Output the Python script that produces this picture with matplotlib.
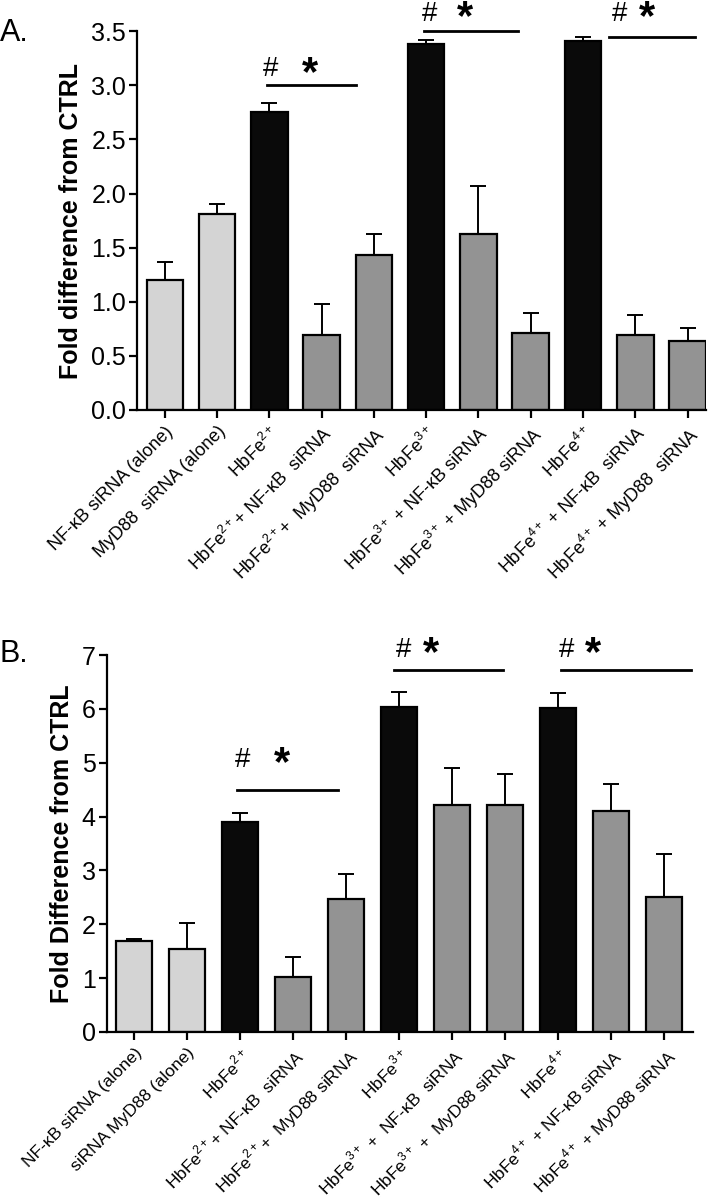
import numpy as np
import matplotlib
matplotlib.use("Agg")
import matplotlib.pyplot as plt

plt.rcParams['font.family'] = ['Liberation Sans', 'DejaVu Sans']
plt.rcParams['mathtext.fontset'] = 'custom'
plt.rcParams['mathtext.rm'] = 'Liberation Sans'

# panel A data
labels_a = ["NF-κB siRNA (alone)", "MyD88  siRNA (alone)", "HbFe$^{2+}$",
            "HbFe$^{2+}$+ NF-κB  siRNA", "HbFe$^{2+}$+  MyD88  siRNA", "HbFe$^{3+}$",
            "HbFe$^{3+}$ + NF-κB siRNA", "HbFe$^{3+}$ + MyD88 siRNA", "HbFe$^{4+}$",
            "HbFe$^{4+}$ + NF-κB  siRNA", "HbFe$^{4+}$ + MyD88  siRNA"]
mean_a = [1.20, 1.81, 2.75, 0.69, 1.43, 3.38, 1.63, 0.71, 3.41, 0.69, 0.64]
err_a = [0.17, 0.09, 0.09, 0.29, 0.20, 0.04, 0.44, 0.19, 0.04, 0.19, 0.12]

# panel B data
labels_b = ["NF-κB siRNA (alone)", "siRNA MyD88 (alone)", "HbFe$^{2+}$",
            "HbFe$^{2+}$+ NF-κB  siRNA", "HbFe$^{2+}$+  MyD88 siRNA", "HbFe$^{3+}$",
            "HbFe$^{3+}$ +  NF-κB  siRNA", "HbFe$^{3+}$ +  MyD88 siRNA", "HbFe$^{4+}$",
            "HbFe$^{4+}$ + NF-κB siRNA", "HbFe$^{4+}$ + MyD88 siRNA"]
mean_b = [1.69, 1.54, 3.90, 1.02, 2.47, 6.04, 4.21, 4.21, 6.02, 4.11, 2.51]
err_b = [0.04, 0.48, 0.17, 0.37, 0.47, 0.28, 0.70, 0.58, 0.28, 0.49, 0.79]

group = ['l', 'l', 'k', 'm', 'm', 'k', 'm', 'm', 'k', 'm', 'm']
cmap = {'l': '#d4d4d4', 'k': '#0a0a0a', 'm': '#939393'}
colors = [cmap[g] for g in group]

# significance bars: (x start, x end, y line, x of #, x of *, y of text)
sig_a = [(1.95, 3.65, 3.0, 2.02, 2.78, 3.15),
         (4.95, 6.75, 3.5, 5.07, 5.75, 3.66),
         (8.5, 10.15, 3.45, 8.7, 9.22, 3.66)]
sig_b = [(1.95, 3.85, 4.5, 2.05, 2.8, 5.06),
         (4.9, 6.95, 6.73, 5.08, 5.6, 7.1),
         (8.05, 10.5, 6.73, 8.15, 8.65, 7.1)]

fig = plt.figure(figsize=(7.18, 12.02), dpi=100)
ax_a = fig.add_axes([0.191, 0.659, 0.792, 0.315])
ax_b = fig.add_axes([0.149, 0.1415, 0.816, 0.3135])


def draw(ax, means, errs, labels, sig, ylim, yticks, fmt, ylabel, xlim, width, xfs):
    x = np.arange(len(means))
    ax.bar(x, means, width=width, color=colors, edgecolor='black', linewidth=1.6, zorder=2)
    ax.errorbar(x, means, yerr=[np.zeros(len(errs)), errs], fmt='none', ecolor='black',
                elinewidth=1.4, capsize=6, capthick=1.4, zorder=1)
    ax.set_xlim(*xlim)
    ax.set_ylim(*ylim)
    ax.set_yticks(yticks)
    ax.set_yticklabels([fmt.format(v) for v in yticks], fontsize=18)
    ax.set_xticks(x)
    ax.set_xticklabels(labels, rotation=45, ha='right', va='top', rotation_mode='anchor', fontsize=xfs)
    ax.spines['top'].set_visible(False)
    ax.spines['right'].set_visible(False)
    ax.spines['left'].set_linewidth(1.6)
    ax.spines['bottom'].set_linewidth(1.6)
    ax.tick_params(axis='both', direction='out', length=6, width=1.6)
    ax.tick_params(axis='y', pad=2)
    ax.set_ylabel(ylabel, fontsize=18, fontweight='bold', labelpad=6)
    for x0, x1, yl, xh, xs, yt in sig:
        ax.plot([x0, x1], [yl, yl], color='black', linewidth=2, clip_on=False)
        ax.text(xh, yt, '#', fontsize=20, ha='center', va='center', clip_on=False)
        ax.text(xs, yt, '*', fontsize=30, fontweight='bold',
                ha='center', va='center_baseline', clip_on=False)


draw(ax_a, mean_a, err_a, labels_a, sig_a, (0, 3.5), np.arange(0, 3.51, 0.5), '{:.1f}',
     'Fold difference from CTRL', (-0.53, 10.35), 0.70, 13)
draw(ax_b, mean_b, err_b, labels_b, sig_b, (0, 7), np.arange(0, 8, 1), '{:d}',
     'Fold Difference from CTRL', (-0.51, 10.54), 0.68, 12.5)

fig.text(0.0, 0.985, 'A.', fontsize=22, ha='left', va='top')
fig.text(0.0, 0.468, 'B.', fontsize=22, ha='left', va='top')

fig.savefig('out.png', dpi=100)
